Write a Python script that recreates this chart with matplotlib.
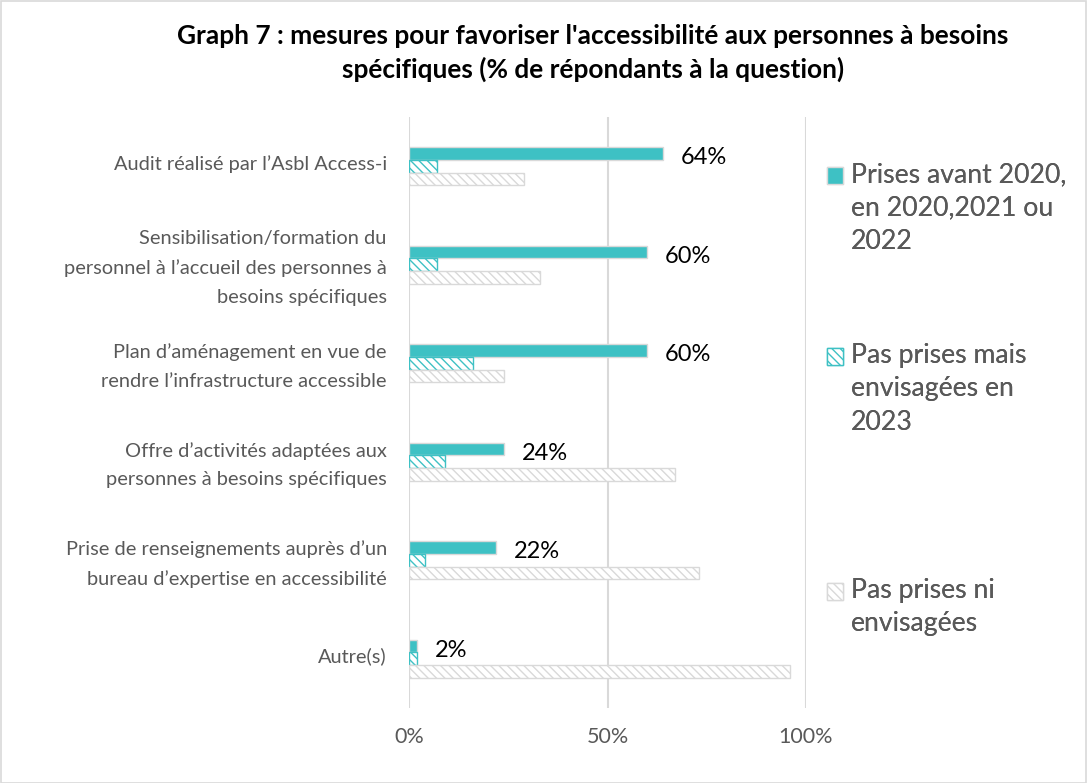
import matplotlib
matplotlib.use("Agg")
import matplotlib.pyplot as plt
import matplotlib.transforms as mtransforms
from matplotlib.patches import Patch, Rectangle
from matplotlib.legend_handler import HandlerPatch

plt.rcParams['font.family'] = ['Lato', 'DejaVu Sans']
plt.rcParams['hatch.linewidth'] = 1.0

categories = [
    "Audit réalisé par l\u2019Asbl Access-i",
    "Sensibilisation/formation du\npersonnel à l\u2019accueil des personnes à\nbesoins spécifiques",
    "Plan d\u2019aménagement en vue de\nrendre l\u2019infrastructure accessible",
    "Offre d\u2019activités adaptées aux\npersonnes à besoins spécifiques",
    "Prise de renseignements auprès d\u2019un\nbureau d\u2019expertise en accessibilité",
    "Autre(s)",
]
prises = [64, 60, 60, 24, 22, 2]
envisagees = [7, 7, 16, 9, 4, 2]
ni_envisagees = [29, 33, 24, 67, 73, 96]
series_labels = [
    "Prises avant 2020,\nen 2020,2021 ou\n2022",
    "Pas prises mais\nenvisagées en\n2023",
    "Pas prises ni\nenvisagées",
]
xticks = [0, 50, 100]
xticklabels = ["0%", "50%", "100%"]
title = "Graph 7 : mesures pour favoriser l'accessibilité aux personnes à besoins\nspécifiques (% de répondants à la question)"

TEAL = "#3ec1c4"
GRID = "#d9d9d9"
TXT = "#595959"

W, H = 1087, 783
fig = plt.figure(figsize=(W / 100, H / 100), dpi=100)
fig.patches.append(Rectangle((0.5 / W, 0.5 / H), 1 - 1.5 / W, 1 - 1.5 / H,
                             transform=fig.transFigure, fill=False,
                             edgecolor=GRID, linewidth=1.2))

x0, x1, ytop, ybot = 409, 806, 117, 708
ax = fig.add_axes([x0 / W, 1 - ybot / H, (x1 - x0) / W, (ybot - ytop) / H])

n = len(categories)
ys = list(range(n))
h = 0.128
off = 0.128
ax.barh([y - off for y in ys], prises, height=h, color=TEAL,
        edgecolor=GRID, linewidth=1.0, zorder=3)
ax.barh(ys, envisagees, height=h, color="white", edgecolor=TEAL,
        hatch="\\\\\\\\", linewidth=1.0, zorder=3)
ax.barh([y + off for y in ys], ni_envisagees, height=h, color="white",
        edgecolor=GRID, hatch="\\\\\\\\", linewidth=1.0, zorder=3)

for y, v in zip(ys, prises):
    ax.text(v + 4.5, y - off + 0.04, f"{v}%", va="center", ha="left",
            fontsize=17, color="black", zorder=4)

ax.set_xlim(0, 100)
ax.set_ylim(n - 0.5, -0.5)
ax.set_xticks(xticks)
ax.set_xticklabels(xticklabels, color=TXT, fontsize=15.5)
ax.set_yticks(ys)
ax.set_yticklabels(categories, color=TXT, fontsize=14.4, linespacing=1.82)
ax.tick_params(axis="both", length=0)
ax.tick_params(axis="x", pad=14)
ax.tick_params(axis="y", pad=16)
shift_up = mtransforms.ScaledTranslation(0, 4 / 100, fig.dpi_scale_trans)
for lbl in ax.get_yticklabels():
    lbl.set_transform(lbl.get_transform() + shift_up)
for s in ax.spines.values():
    s.set_visible(False)
ax.grid(axis="x", color=GRID, linewidth=1.5, zorder=0)
ax.set_axisbelow(True)


def make_handler(nlines, line_pts):
    shift = (nlines - 1) / 2 * line_pts

    def pfunc(legend, orig_handle, xdescent, ydescent, width, height, fontsize):
        return Rectangle((-xdescent, -ydescent + shift), width, height)
    return HandlerPatch(patch_func=pfunc)


handles = [
    Patch(facecolor=TEAL, edgecolor=GRID),
    Patch(facecolor="white", edgecolor=TEAL, hatch="\\\\\\\\"),
    Patch(facecolor="white", edgecolor=GRID, hatch="\\\\\\\\"),
]
leg_y = [162, 343, 578]
line_pts = 33 * 72 / 100
for hdl, lab, yy in zip(handles, series_labels, leg_y):
    nl = lab.count("\n") + 1
    lg = fig.legend([hdl], [lab], loc="upper left",
                    bbox_to_anchor=(827 / W, 1 - yy / H),
                    frameon=False, fontsize=19.2, labelcolor=TXT,
                    handlelength=0.6, handleheight=0.6, handletextpad=0.3,
                    borderpad=0, borderaxespad=0,
                    handler_map={Patch: make_handler(nl, line_pts)})
    lg.get_texts()[0].set_linespacing(1.42)
    fig.add_artist(lg)

fig.text(593 / W, 1 - 53 / H, title, ha="center", va="center",
         fontsize=18.9, fontweight="bold", color="black", linespacing=1.39)

fig.savefig("out.png", dpi=100)
